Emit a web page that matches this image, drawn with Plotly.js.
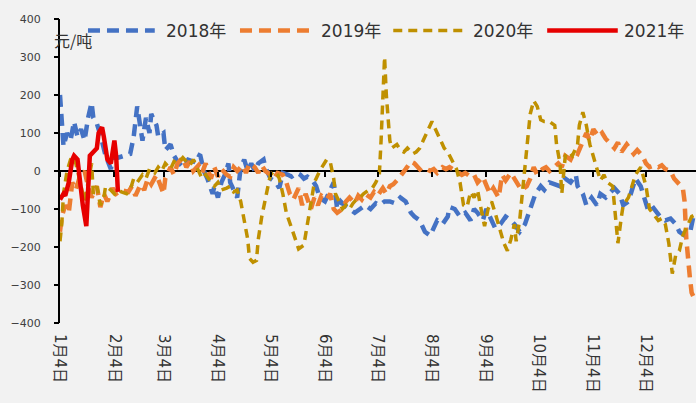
<!DOCTYPE html>
<html>
<head>
<meta charset="utf-8">
<script src="https://cdn.plot.ly/plotly-3.0.1.min.js"></script>
<style>html,body{margin:0;padding:0;background:#f2f2f2;}#chart{width:696px;height:403px;}</style>
</head>
<body>
<div id="chart"></div>
<script>
// x values are day-of-year (Jan 4 = day 4)
const tickDays = [4, 35, 63, 94, 124, 155, 185, 216, 247, 277, 308, 338];
const tickLabels = ["1月4日","2月4日","3月4日","4月4日","5月4日","6月4日","7月4日","8月4日","9月4日","10月4日","11月4日","12月4日"];
const seriesNames = ["2018年","2019年","2020年","2021年"];

const days2018 = [4,5,6,8,10,12,14,16,18,20, 22,23,25,27,29,30,33,34,37,41,
  44,46,48,50,51,53,55,56,59,60, 63,64,67,69,71,74,77,80,82,84,
  86,88,91,92,94,96,98,100,101,103, 105,107,109,111,113,115,117,120,121,124,
  127,129,131,134,136,139,141,143,145,148, 150,152,155,158,160,162,164,166,169,172,
  175,178,181,184,186,189,192,195,198,201, 204,206,209,212,215,217,219,222,225,226,
  229,232,235,238,240,242,245,247,249,252, 255,258,261,263,266,269,272,275,278,280,
  283,286,289,292,295,298,299,302,304,307, 310,312,315,318,320,323,325,328,330,332,
  335,337,339,341,344,346,349,352,355,357, 360,363,365,366];
const val2018 = [200,120,65,100,80,130,90,110,80,140, 180,140,125,95,60,40,5,35,35,40,
  45,90,170,110,80,140,100,150,120,90, 100,55,70,40,25,10,30,25,45,40,
  0,-20,-60,-40,-70,-30,-10,20,-30,-50, -70,10,30,0,20,0,20,30,10,-20,
  -30,-45,-5,-10,-15,-5,-10,-20,-15,-25, -40,-70,-80,-50,-30,-100,-80,-90,-100,-110,
  -100,-90,-100,-85,-90,-80,-80,-85,-70,-80, -110,-120,-130,-160,-170,-150,-130,-140,-120,-95,
  -100,-120,-110,-130,-100,-110,-130,-100,-120,-150, -140,-120,-130,-140,-160,-140,-100,-60,-40,-50,
  -30,-35,-40,-20,-30,-10,-40,-60,-90,-70, -90,-60,-70,-55,-45,-60,-90,-80,-50,-20,
  -40,-70,-100,-90,-110,-120,-130,-125,-140,-160, -170,-165,-120,-110];

const days2019 = [4,5,7,9,11,13,15,18,20,22, 25,27,29,31,34,36,39,43,45,47,
  50,52,54,56,59,61,63,64,67,69, 71,74,76,78,80,83,85,87,90,92,
  94,96,99,101,103,105,108,110,112,115, 117,119,121,124,126,128,131,133,135,137,
  140,142,144,147,149,151,153,156,158,160, 162,165,167,169,172,174,176,178,181,183,
  185,188,190,192,194,197,199,201,204,206, 208,210,213,215,217,219,222,224,226,229,
  231,233,235,238,240,242,245,247,249,251, 254,256,258,261,263,265,267,270,272,274,
  276,279,281,283,286,288,290,292,295,297, 299,302,304,306,308,311,313,315,318,320,
  322,324,327,329,331,333,336,338,340,343, 345,347,349,352,354,356,359,360,361,363,
  364,366];
const val2019 = [-160,-120,-90,-110,-30,-50,-20,0,-40,-70, -40,-95,-60,-80,-45,-60,-50,-55,-40,-65,
  -35,-50,-20,-35,-10,-40,-60,-20,10,-10, 20,35,10,25,0,15,-5,20,-20,10,
  -15,5,-10,-15,10,0,15,-5,20,10, -5,15,0,-10,-20,-5,-10,-30,-60,-75,
  -45,-90,-60,-100,-70,-90,-65,-75,-60,-100, -110,-100,-80,-70,-85,-65,-75,-60,-70,-55,
  -65,-45,-60,-40,-35,-20,-5,5,25,20, 10,0,5,0,5,-5,10,5,10,0,
  -5,-10,-5,-15,-10,-30,-15,-40,-60,-45, -70,-10,-25,-5,-20,-30,-50,-40,-20,10,
  -10,5,10,0,10,20,10,40,30,50, 45,80,100,80,110,90,100,85,70,60,
  75,50,70,55,45,55,40,20,10,15, 10,15,5,0,-20,-30,-45,-80,-180,-280,
  -320,-340];

const days2020 = [4,5,6,8,10,11,13,15,17,18, 20,22,23,25,27,29,30,33,35,37,
  39,42,44,46,48,51,53,55,58,60, 62,64,67,69,71,74,76,78,80,83,
  85,87,90,92,94,96,99,101,103,105, 107,109,111,112,114,116,117,119,121,123,
  124,126,128,129,131,133,136,138,140,143, 145,147,149,152,154,156,158,160,161,163,
  165,167,169,171,173,175,177,180,182,184, 186,187,188,189,190,192,193,196,198,200,
  202,205,207,209,211,214,216,218,221,223, 225,227,230,232,234,236,238,240,242,244,
  246,248,250,252,254,257,259,261,263,264, 266,268,270,272,274,276,278,280,283,286,
  287,289,290,292,294,296,299,300,302,304, 306,308,310,312,314,316,319,320,322,324,
  325,328,330,332,335,336,338,340,343,345, 347,349,351,353,355,357,359,362,364,366];
const val2020 = [-185,-140,-60,0,30,40,20,-20,-60,-80, -30,20,-60,-40,-90,-70,-40,-50,-60,-50,
  -55,-60,-50,-20,-30,-10,-20,5,-5,10, 0,20,5,25,20,35,25,15,30,0,
  -20,-10,-30,-40,-30,-50,-45,-40,-55,-50, -80,-130,-180,-230,-240,-235,-180,-120,-70,-30,
  -10,0,-10,-20,-60,-110,-150,-180,-205,-195, -140,-80,-30,0,15,30,25,-20,-60,-80,
  -100,-90,-100,-85,-75,-70,-60,-50,-45,-30, -10,80,200,300,200,80,60,70,55,50,
  60,45,50,60,80,110,130,110,80,60, 50,30,5,-30,-90,-95,-55,-70,-50,-100,
  -145,-100,-80,-110,-140,-190,-210,-180,-140,-185, -130,-40,50,150,185,170,135,130,130,120,
  70,20,-60,40,50,40,70,120,155,120, 70,40,10,-25,-10,-30,-40,-100,-190,-120,
  -90,-70,-40,-10,10,-5,-40,-100,-120,-130, -125,-140,-190,-270,-220,-210,-170,-140,-120,-115];

const days2021 = [4,6,7,9,11,12,14,15,17,19, 20,21,23,25,26,28,29,30,31,33, 34,35,36,37];
const val2021 = [-75,-60,-65,-30,30,40,30,-20,-90,-145, -40,40,50,60,100,115,90,60,30,20, 60,80,40,-55];

const colors = ["#4472C4","#ED7D31","#BF9000","#E60000"];
const widths = [4.5, 4.5, 3.5, 4.5];
const dashes = ["12px,7px","12px,7px","9px,6px","solid"];

const xs = [days2018, days2019, days2020, days2021];
const ys = [val2018, val2019, val2020, val2021];

const traces = xs.map((x, i) => ({
  x: x, y: ys[i], type: 'scatter', mode: 'lines', name: seriesNames[i],
  line: {color: colors[i], width: widths[i], dash: dashes[i]},
  showlegend: false, hoverinfo: 'skip'
}));
// empty helper traces so the overlay axes (tick marks only) are drawn
traces.push({x: [], y: [], xaxis: 'x2', yaxis: 'y', type: 'scatter', showlegend: false, hoverinfo: 'skip'});
traces.push({x: [], y: [], xaxis: 'x', yaxis: 'y2', type: 'scatter', showlegend: false, hoverinfo: 'skip'});

// custom legend (paper coordinates)
const legX = [[0.044, 0.149], [0.283, 0.396], [0.524, 0.637], [0.766, 0.877]];
const legTextX = [0.164, 0.407, 0.647, 0.884];
const legY = 0.962;
const legFont = {family: 'DejaVu Sans, Noto Sans CJK SC', size: 17, color: '#333333'};
const shapes = legX.map((p, i) => ({
  type: 'line', xref: 'paper', yref: 'paper', x0: p[0], x1: p[1], y0: legY, y1: legY,
  line: {color: colors[i], width: widths[i], dash: dashes[i]}
}));
const annotations = seriesNames.map((t, i) => ({
  text: t, xref: 'paper', yref: 'paper', x: legTextX[i], y: legY, xanchor: 'left', yanchor: 'middle',
  showarrow: false, font: legFont
}));
annotations.push({
  text: '元/吨', xref: 'paper', yref: 'paper', x: -0.012, y: 0.93, xanchor: 'left', yanchor: 'middle',
  showarrow: false, font: {family: 'Noto Sans CJK SC', size: 16, color: '#333333'}
});

const layout = {
  width: 696, height: 403,
  margin: {l: 60, r: 0, t: 19, b: 80, pad: 0},
  paper_bgcolor: '#f2f2f2', plot_bgcolor: '#f2f2f2',
  showlegend: false,
  xaxis: {
    range: [4, 366.5], tickmode: 'array', tickvals: tickDays, ticktext: tickLabels,
    tickangle: 90, showline: false, ticks: '', showgrid: false, zeroline: false,
    ticklabelstandoff: 10,
    tickfont: {family: 'DejaVu Sans, Noto Sans CJK SC', size: 15, color: '#333333'}
  },
  xaxis2: {
    overlaying: 'x', anchor: 'free', position: 0.5, range: [4, 366.5],
    tickmode: 'array', tickvals: tickDays, ticks: 'outside', ticklen: 5, tickwidth: 2, tickcolor: '#000',
    showticklabels: false, showline: false, showgrid: false, zeroline: false
  },
  yaxis: {
    range: [-400, 400], dtick: 100, tick0: 0, showgrid: false,
    zeroline: true, zerolinecolor: '#000', zerolinewidth: 2,
    showline: true, linecolor: '#000', linewidth: 2,
    ticks: 'outside', ticklen: 15, tickwidth: 1, tickcolor: '#f2f2f2',
    tickfont: {family: 'DejaVu Sans', size: 11, color: '#404040'}
  },
  yaxis2: {
    overlaying: 'y', side: 'left', anchor: 'x', range: [-400, 400], dtick: 100, tick0: 0,
    showgrid: false, zeroline: false, showline: false, showticklabels: false,
    ticks: 'outside', ticklen: 5, tickwidth: 1.5, tickcolor: '#000'
  },
  shapes: shapes,
  annotations: annotations
};

Plotly.newPlot('chart', traces, layout, {staticPlot: true});
</script>
</body>
</html>
